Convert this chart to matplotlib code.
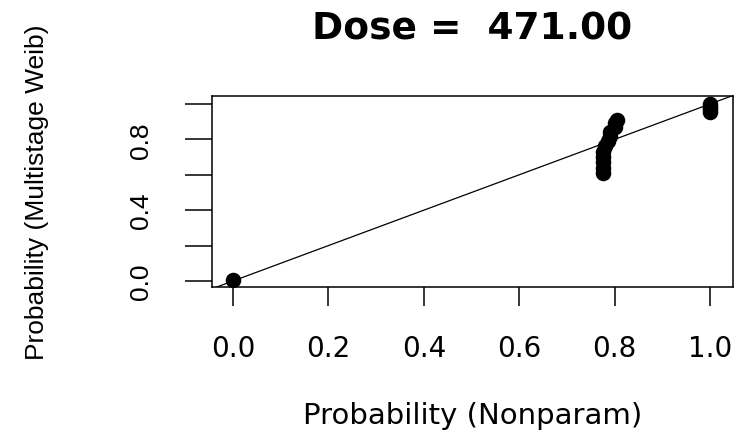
import matplotlib.pyplot as plt

# Data
nonparam = [0.0,
            0.775, 0.775, 0.775, 0.775, 0.775, 0.78, 0.785, 0.79, 0.79, 0.80, 0.80, 0.805,
            1.0, 1.0, 1.0, 1.0]
multistage = [0.005,
              0.61, 0.64, 0.67, 0.70, 0.73, 0.76, 0.79, 0.82, 0.84, 0.87, 0.89, 0.91,
              0.955, 0.97, 0.985, 1.0]
xticks = [0.0, 0.2, 0.4, 0.6, 0.8, 1.0]
xticklabels = ['0.0', '0.2', '0.4', '0.6', '0.8', '1.0']
yticks = [0.0, 0.2, 0.4, 0.6, 0.8, 1.0]
yticklabels = ['0.0', '', '0.4', '', '0.8', '']

plt.rcParams['font.family'] = 'DejaVu Sans'

fig = plt.figure(figsize=(7.4, 4.35), dpi=100)
W, H = 740, 435
ax = fig.add_axes([212 / W, 1 - 288 / H, (733 - 212) / W, (288 - 97) / H])

ax.scatter(nonparam, multistage, s=125, color='black', zorder=3, linewidths=0)
ax.axline((0, 0), slope=1, color='black', lw=0.9)

ax.set_xlim(-0.044, 1.048)
ax.set_ylim(-0.034, 1.045)

ax.set_xticks(xticks)
ax.set_xticklabels(xticklabels)
ax.set_yticks(yticks)
ax.set_yticklabels(yticklabels, rotation=90, va='center', family='Liberation Sans')

ax.tick_params(axis='x', length=13.7, width=1.1, pad=20, labelsize=20, colors='black')
ax.tick_params(axis='y', length=19.4, width=1.1, pad=23, labelsize=19, colors='black')
for sp in ax.spines.values():
    sp.set_linewidth(1.1)

ax.set_xlabel('Probability (Nonparam)', fontsize=21, va='center')
ax.xaxis.set_label_coords(0.5, (288 - 416) / 191)
ax.set_ylabel('Probability (Multistage Weib)', fontsize=19, va='center', family='Liberation Sans')
ax.yaxis.set_label_coords((37 - 212) / 521, 0.5)

ax.set_title('Dose =  471.00', fontsize=27, fontweight='bold',
             y=(288 - 40) / 191, va='baseline', pad=0)

fig.savefig('out.png', dpi=100)
